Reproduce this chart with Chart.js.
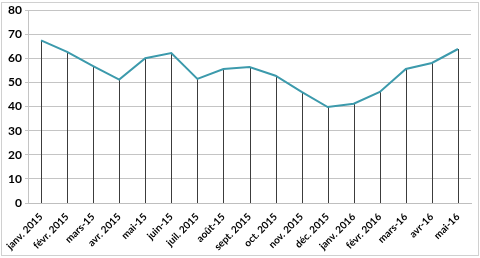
<!DOCTYPE html>
<html lang="fr">
<head>
    <meta charset="UTF-8">
    <title>Évolution mensuelle</title>
    <script src="https://cdn.jsdelivr.net/npm/chart.js"></script>
    <style>
        body { margin: 0; background: #fff; }
        .wrap { position: relative; width: 480px; height: 258px; }
        .frame { position: absolute; left: 1px; top: 2px; width: 476px; height: 252px; border: 1px solid #d0d0d0; pointer-events: none; }
    </style>
</head>
<body>
    <div class="wrap">
        <canvas id="chart" width="480" height="258"></canvas>
        <div class="frame"></div>
    </div>

    <script>
        const months = ["janv. 2015", "févr. 2015", "mars-15", "avr. 2015", "mai-15", "juin-15",
            "juil. 2015", "août-15", "sept. 2015", "oct. 2015", "nov. 2015", "déc. 2015",
            "janv. 2016", "févr. 2016", "mars-16", "avr-16", "mai-16"];
        const values = [67.5, 62.7, 56.8, 51.2, 60.1, 62.2, 51.5, 55.6, 56.4, 52.8, 46.1, 39.8,
            41.2, 46.1, 55.6, 58.1, 63.9];
        const yTicks = [0, 10, 20, 30, 40, 50, 60, 70, 80];

        // vertical drop lines from each point down to the x axis
        const dropLines = {
            id: "dropLines",
            beforeDatasetsDraw(chart) {
                const c = chart.ctx, xs = chart.scales.x, ys = chart.scales.y;
                c.save();
                c.strokeStyle = "#3c3c3c";
                c.lineWidth = 1;
                c.beginPath();
                values.forEach((v, i) => {
                    const x = Math.round(xs.getPixelForValue(i)) + 0.5;
                    c.moveTo(x, ys.getPixelForValue(v));
                    c.lineTo(x, ys.getPixelForValue(0));
                });
                c.stroke();
                c.restore();
            }
        };

        const ctx = document.getElementById("chart").getContext("2d");
        new Chart(ctx, {
            type: "line",
            data: {
                labels: months,
                datasets: [{
                    data: values,
                    borderColor: "#3c9aac",
                    borderWidth: 2,
                    pointRadius: 0,
                    tension: 0
                }]
            },
            options: {
                responsive: false,
                animation: false,
                layout: { padding: { top: 8, right: 9, left: 0, bottom: 0 } },
                plugins: { legend: { display: false }, tooltip: { enabled: false } },
                scales: {
                    x: {
                        offset: true,
                        grid: { display: false },
                        border: { color: "#bfbfbf" },
                        ticks: {
                            color: "#000",
                            font: { family: "Lato", size: 10, weight: "bold" },
                            minRotation: 45,
                            maxRotation: 45,
                            autoSkip: false,
                            padding: 0
                        },
                        afterFit: s => { s.height = 55; }
                    },
                    y: {
                        min: 0,
                        max: 80,
                        afterBuildTicks: s => { s.ticks = yTicks.map(v => ({ value: v })); },
                        grid: { color: "#c4c4c4", tickLength: 3 },
                        border: { color: "#c4c4c4" },
                        ticks: {
                            color: "#000",
                            font: { family: "Lato", size: 12, weight: "bold" },
                            padding: 3
                        },
                        afterFit: s => { s.width = 28; }
                    }
                }
            },
            plugins: [dropLines]
        });
    </script>
</body>
</html>
